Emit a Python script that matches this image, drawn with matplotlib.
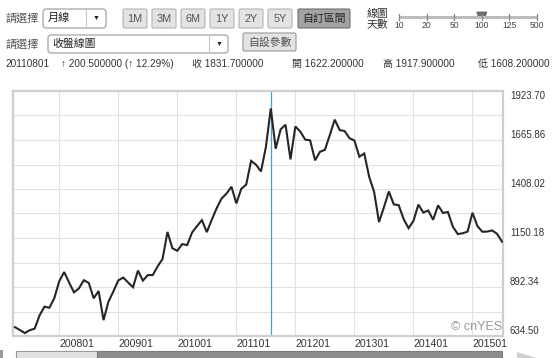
"""Monthly close line chart (cnYES style) with the header controls."""
import numpy as np
import matplotlib.pyplot as plt
from matplotlib.patches import FancyBboxPatch, Rectangle, Polygon
from matplotlib.transforms import blended_transform_factory

plt.rcParams['font.family'] = ['Liberation Sans', 'Noto Sans CJK TC', 'DejaVu Sans']

# monthly closes, 200704 .. 201507
close = [681, 666, 650, 665, 673, 743, 789, 783, 834,
         923, 971, 916, 864, 885, 928, 914, 833, 871, 718, 815, 869,
         927, 942, 916, 891, 979, 926, 955, 955, 1001, 1040, 1182, 1096,
         1083, 1118, 1113, 1179, 1213, 1244, 1181, 1246, 1307, 1358, 1384, 1420,
         1332, 1409, 1431, 1556, 1536, 1500, 1628, 1831.7, 1620, 1722, 1746, 1564,
         1737, 1710, 1668, 1664, 1559, 1604, 1614, 1692, 1773, 1718, 1713, 1675,
         1663, 1578, 1595, 1472, 1393, 1234, 1312, 1395, 1327, 1323, 1250, 1202,
         1240, 1326, 1284, 1295, 1246, 1322, 1282, 1287, 1210, 1171, 1175, 1184,
         1283, 1213, 1183, 1184, 1190, 1172, 1131]
first_year, first_month = 2007, 4
x_labels = ["200801", "200901", "201001", "201101", "201201", "201301", "201401", "201501"]
y_low, y_high = 634.50, 1923.70
y_labels = ["1923.70", "1665.86", "1408.02", "1150.18", "892.34", "634.50"]
cursor_label = "201108"

buttons = ["1M", "3M", "6M", "1Y", "2Y", "5Y"]
slider_ticks = ["10", "20", "50", "100", "125", "500"]
info_date = "20110801"
info_chg = "\u2191 200.500000 (\u2191 12.29%)"
info_close = "收 1831.700000"
info_open = "開 1622.200000"
info_high = "高 1917.900000"
info_low = "低 1608.200000"


def month_index(lbl):
    return (int(lbl[:4]) - first_year) * 12 + int(lbl[4:]) - first_month


W, H = 553, 358
fig = plt.figure(figsize=(W / 100, H / 100), dpi=100)

# ---- main chart
L, R, T, B = 13, 503, 91, 336
ax = fig.add_axes([L / W, 1 - B / H, (R - L) / W, (B - T) / H])
xs = np.arange(len(close))
ax.plot(xs, close, color='#262626', lw=1.5, solid_joinstyle='miter', zorder=3)
ax.set_xlim(-0.4, len(close) - 1 + 0.2)
ax.set_ylim(y_low, y_high)

ax.set_yticks(np.linspace(y_low, y_high, 11))
ax.set_yticklabels([])
ax.set_xticks([month_index(s) for s in x_labels])
ax.set_xticklabels(x_labels, ha='left', fontsize=7.6, color='#333333')
ax.tick_params(length=0, pad=2)
ax.grid(color='#e2e2e2', lw=0.8)
for s in ax.spines.values():
    s.set_color('#cfcfcf')
    s.set_linewidth(1.6)

ax.axvline(month_index(cursor_label), color='#4a9fd0', lw=0.9, zorder=2)

tr = blended_transform_factory(ax.transAxes, ax.transData)
for i, lab in enumerate(y_labels):
    v = float(lab)
    ax.text(1.014, v, lab, transform=tr, fontsize=7, color='#333333',
            va='top' if i == 0 else 'bottom', ha='left')

ax.text(0.998, 0.012, "\u00a9 cnYES", transform=ax.transAxes, ha='right', va='bottom',
        fontsize=9, color='#9a9a9a')

# ---- header / controls in pixel coordinates
ov = fig.add_axes([0, 0, 1, 1], zorder=-1)
ov.set_xlim(0, W)
ov.set_ylim(H, 0)
ov.axis('off')


def box(x0, y0, x1, y1, fc, ec, r=2, lw=0.8):
    ov.add_patch(FancyBboxPatch((x0, y0), x1 - x0, y1 - y0,
                                boxstyle=f"round,pad=0,rounding_size={r}",
                                fc=fc, ec=ec, lw=lw))


# row 1
ov.text(5, 18, "請選擇", fontsize=8, color='#555555', va='center')
box(43, 9, 106, 28, 'white', '#9a9a9a', r=3)
ov.plot([86, 86], [10, 27], color='#c8c8c8', lw=0.8)
ov.text(48, 18, "月線", fontsize=8, color='#222222', va='center')
ov.text(96, 18, "\u25bc", fontsize=5, color='#222222', va='center', ha='center')

bx = 123
for b in buttons:
    box(bx, 9, bx + 24, 28, '#e3e3e3', '#b4b4b4', r=1.5)
    ov.text(bx + 12, 18.5, b, fontsize=7.8, color='#555555', ha='center', va='center')
    bx += 29
box(298, 9, 350, 28, '#a3a3a3', '#6e6e6e', r=1.5)
ov.text(324, 18.5, "自訂區間", fontsize=7.8, color='#222222', ha='center', va='center')

ov.text(367, 14, "線圖", fontsize=7.8, color='#333333', va='center')
ov.text(367, 24.5, "天數", fontsize=7.8, color='#333333', va='center')
ov.plot([399, 537], [17, 17], color='#bdbdbd', lw=2.2, solid_capstyle='butt')
for sx, st in zip(np.linspace(399, 537, len(slider_ticks)), slider_ticks):
    ov.plot([sx, sx], [14, 20], color='#888888', lw=0.9)
    ov.text(sx, 25.5, st, fontsize=6.2, color='#444444', ha='center', va='center',
            family=['Liberation Sans Narrow', 'Liberation Sans'])
hx = 399 + (537 - 399) * 3 / 5
ov.add_patch(Polygon([(hx - 5, 12), (hx + 5, 12), (hx + 3, 18), (hx - 3, 18)],
                     closed=True, fc='#6f6f6f', ec='#555555', lw=0.5))

# row 2
ov.text(5, 44, "請選擇", fontsize=8, color='#555555', va='center')
box(48, 35, 228, 53, 'white', '#9a9a9a', r=3)
ov.plot([209, 209], [36, 52], color='#c8c8c8', lw=0.8)
ov.text(52, 44, "收盤線圖", fontsize=7.8, color='#222222', va='center')
ov.text(219, 44, "\u25bc", fontsize=5, color='#222222', va='center', ha='center')
box(243, 33, 296, 51, '#e3e3e3', '#9a9a9a', r=1.5)
ov.text(269.5, 42.5, "自設參數", fontsize=7.8, color='#555555', ha='center', va='center')

# info line
info_kw = dict(fontsize=7.2, color='#333333', va='center')
ov.text(5, 64, info_date, **info_kw)
ov.text(61, 64, info_chg, **info_kw)
ov.text(192, 64, info_close, **info_kw)
ov.text(292, 64, info_open, **info_kw)
ov.text(383, 64, info_high, **info_kw)
ov.text(478, 64, info_low, **info_kw)

# scrollbar at the bottom
ov.add_patch(Rectangle((16, 351), 81, 8, fc='#e2e2e2', ec='#9a9a9a', lw=0.8))
ov.add_patch(Rectangle((97, 351), 405, 8, fc='#8c8c8c', ec='#7a7a7a', lw=0.8))
ov.add_patch(Rectangle((0, 350), 3, 8, fc='#9a9a9a', ec='none'))
ov.add_patch(Polygon([(517, 352), (540, 359), (517, 359)], closed=True, fc='#d0d0d0', ec='none'))

fig.savefig("out.png", dpi=100)
